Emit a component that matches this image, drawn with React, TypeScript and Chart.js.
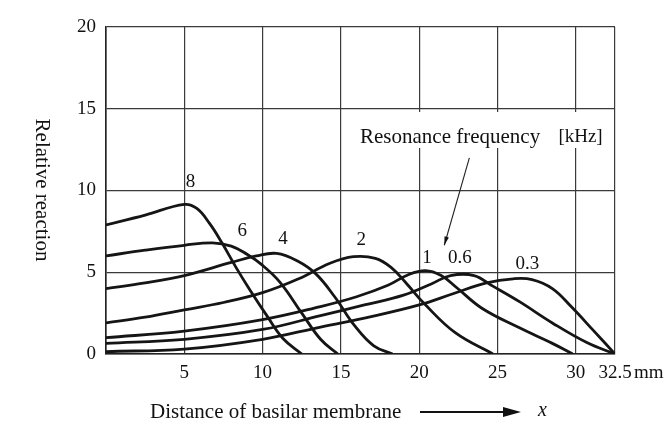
import React, { useEffect, useRef } from "react";
import { Chart, registerables } from "chart.js";

Chart.register(...registerables);

// Resonance frequency labels [kHz]
const freqLabels = ["8", "6", "4", "2", "1", "0.6", "0.3"];

// Curves: [distance (mm), relative reaction]
const curve8: [number, number][] = [
  [0, 7.9], [2.5, 8.5], [5, 9.15], [5.8, 8.9], [6.6, 8.0], [7.4, 6.8], [8.3, 5.3], [9.2, 3.9], [10.3, 2.3], [11.3, 0.95], [12.5, 0],
];
const curve6: [number, number][] = [
  [0, 6.0], [2.5, 6.35], [5, 6.65], [6.8, 6.8], [8, 6.6], [9, 6.1], [9.9, 5.5], [11.1, 4.4], [12.5, 2.5], [13.7, 0.9], [14.8, 0],
];
const curve4: [number, number][] = [
  [0, 4.0], [2.5, 4.35], [5, 4.8], [8, 5.6], [9.6, 6.0], [10.9, 6.15], [12.2, 5.7], [13.4, 4.9], [14.6, 3.5], [15.9, 1.7], [17.1, 0.5], [18.3, 0],
];
const curve2: [number, number][] = [
  [0, 1.9], [2.5, 2.25], [5, 2.7], [7.5, 3.15], [10, 3.75], [12.3, 4.6], [14.3, 5.55], [15.8, 5.95], [17.2, 5.85], [18.2, 5.3], [19.2, 4.3], [20.3, 3.1], [22.3, 1.3], [24.7, 0],
];
const curve1: [number, number][] = [
  [0, 1.0], [5, 1.4], [10, 2.1], [13.7, 2.9], [16, 3.5], [18, 4.2], [19.3, 4.85], [20.4, 5.1], [21.4, 4.8], [22.4, 4.05], [24, 2.8], [26.4, 1.6], [28.5, 0.65], [29.8, 0],
];
const curve06: [number, number][] = [
  [0, 0.65], [5, 0.9], [10, 1.5], [13.7, 2.35], [16.5, 3.0], [19, 3.6], [20.8, 4.3], [22, 4.8], [23.5, 4.8], [24.7, 4.15], [26.4, 3.2], [28.5, 1.9], [30.7, 0.7], [32.5, 0],
];
const curve03: [number, number][] = [
  [0, 0.15], [5, 0.3], [10, 0.9], [13.7, 1.65], [17, 2.3], [20, 3.0], [22.2, 3.7], [24.3, 4.35], [26, 4.6], [27.2, 4.55], [28.5, 4.0], [29.7, 2.9], [31.1, 1.46], [32.5, 0],
];
const curves = [curve8, curve6, curve4, curve2, curve1, curve06, curve03];

// Label anchor positions (data coords)
const labelX = [5.4, 8.7, 11.3, 16.3, 20.5, 22.6, 26.9];
const labelY = [10.5, 7.55, 7.05, 6.95, 5.9, 5.85, 5.5];

const xTicks = [0, 5, 10, 15, 20, 25, 30, 32.5];
const yTicks = [0, 5, 10, 15, 20];

const FONT = "'Liberation Serif', 'Times New Roman', Times, serif";

const annotationPlugin = {
  id: "annot",
  afterDraw(chart: any) {
    const { ctx } = chart;
    const xs = chart.scales.x;
    const ys = chart.scales.y;
    ctx.save();
    ctx.fillStyle = "#111";
    ctx.textAlign = "center";
    ctx.textBaseline = "middle";
    ctx.font = `19px ${FONT}`;
    freqLabels.forEach((lab, i) => {
      ctx.fillText(lab, xs.getPixelForValue(labelX[i]), ys.getPixelForValue(labelY[i]));
    });

    // Resonance frequency annotation
    const bx0 = xs.getPixelForValue(15.5);
    const bx1 = xs.getPixelForValue(31.6);
    const by0 = ys.getPixelForValue(14.8);
    const by1 = ys.getPixelForValue(12.6);
    ctx.fillStyle = "#fff";
    ctx.fillRect(bx0, by0, bx1 - bx0, by1 - by0);
    ctx.fillStyle = "#111";
    ctx.font = `21px ${FONT}`;
    ctx.fillText("Resonance frequency", xs.getPixelForValue(21.97), ys.getPixelForValue(13.25));
    ctx.font = `19px ${FONT}`;
    ctx.fillText("[kHz]", xs.getPixelForValue(30.3), ys.getPixelForValue(13.3));

    // arrow
    const ax0 = xs.getPixelForValue(23.2), ay0 = ys.getPixelForValue(12.0);
    const ax1 = xs.getPixelForValue(21.6), ay1 = ys.getPixelForValue(6.65);
    ctx.strokeStyle = "#222";
    ctx.lineWidth = 1.1;
    ctx.beginPath();
    ctx.moveTo(ax0, ay0);
    ctx.lineTo(ax1, ay1);
    ctx.stroke();
    const ang = Math.atan2(ay1 - ay0, ax1 - ax0);
    ctx.beginPath();
    ctx.moveTo(ax1, ay1);
    ctx.lineTo(ax1 - 9 * Math.cos(ang - 0.25), ay1 - 9 * Math.sin(ang - 0.25));
    ctx.lineTo(ax1 - 9 * Math.cos(ang + 0.25), ay1 - 9 * Math.sin(ang + 0.25));
    ctx.closePath();
    ctx.fill();

    // "mm" unit after last tick
    ctx.font = `19px ${FONT}`;
    ctx.textAlign = "left";
    ctx.fillText("mm", xs.getPixelForValue(32.5) + 19, chart.chartArea.bottom + 19);

    // x axis title with arrow
    ctx.font = `21px ${FONT}`;
    ctx.textAlign = "left";
    const ty = chart.chartArea.bottom + 58;
    ctx.fillText("Distance of basilar membrane", 150, ty);
    ctx.strokeStyle = "#111";
    ctx.lineWidth = 1.8;
    ctx.beginPath();
    ctx.moveTo(420, ty);
    ctx.lineTo(508, ty);
    ctx.stroke();
    ctx.beginPath();
    ctx.moveTo(521, ty);
    ctx.lineTo(503, ty - 5);
    ctx.lineTo(503, ty + 5);
    ctx.closePath();
    ctx.fill();
    ctx.font = `italic 20px ${FONT}`;
    ctx.fillText("x", 538, ty - 1);

    // y axis title (rotated clockwise)
    ctx.save();
    ctx.translate(42, 190);
    ctx.rotate(Math.PI / 2);
    ctx.textAlign = "center";
    ctx.font = `21px ${FONT}`;
    ctx.fillText("Relative reaction", 0, 0);
    ctx.restore();

    ctx.restore();
  },
};

export default function App() {
  const ref = useRef<HTMLCanvasElement | null>(null);
  useEffect(() => {
    if (!ref.current) return;
    const datasets = curves.map((c, i) => ({
      label: freqLabels[i],
      data: c.map(([x, y]) => ({ x, y })),
      borderColor: "#151515",
      borderWidth: 2.8,
      pointRadius: 0,
      fill: false,
      tension: 0.4,
    }));
    const chart = new Chart(ref.current, {
      type: "line",
      data: { datasets },
      plugins: [annotationPlugin],
      options: {
        responsive: false,
        animation: false,
        layout: { padding: { top: 27, right: 52, left: 0, bottom: 0 } },
        plugins: { legend: { display: false }, tooltip: { enabled: false } },
        scales: {
          x: {
            type: "linear",
            min: 0,
            max: 32.5,
            afterBuildTicks: (scale: any) => {
              scale.ticks = xTicks.map((v) => ({ value: v }));
            },
            afterFit: (scale: any) => {
              scale.height = 69;
            },
            grid: { color: "#3a3a3a", lineWidth: 1.2, drawTicks: false },
            border: { color: "#222", width: 1.6 },
            ticks: {
              color: "#111",
              font: { family: FONT, size: 19 },
              padding: 8,
              maxRotation: 0,
              autoSkip: false,
              callback: (v: any) => (v === 0 ? "" : String(v)),
            },
          },
          y: {
            type: "linear",
            min: 0,
            max: 20,
            afterBuildTicks: (scale: any) => {
              scale.ticks = yTicks.map((v) => ({ value: v }));
            },
            afterFit: (scale: any) => {
              scale.width = 106;
            },
            grid: { color: "#3a3a3a", lineWidth: 1.2, drawTicks: false },
            border: { color: "#222", width: 1.6 },
            ticks: {
              color: "#111",
              font: { family: FONT, size: 19 },
              padding: 10,
              callback: (v: any) => String(v),
            },
          },
        },
      },
    });
    return () => chart.destroy();
  }, []);
  return (
    <div style={{ position: "absolute", left: 0, top: 0, width: 667, height: 423, background: "#fff" }}>
      <canvas ref={ref} width={667} height={423} style={{ width: 667, height: 423 }} />
    </div>
  );
}
